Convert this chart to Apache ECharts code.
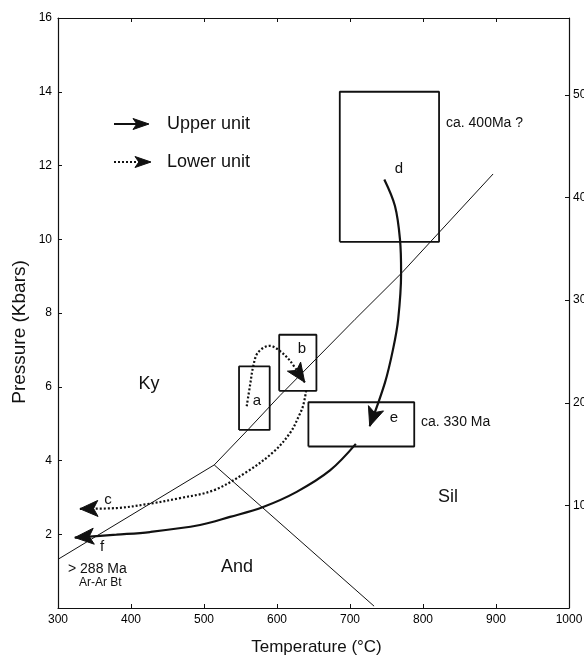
<!DOCTYPE html>
<html>
<head>
<meta charset="utf-8">
<script src="https://cdn.jsdelivr.net/npm/echarts@6.0.0/dist/echarts.min.js"></script>
<style>
html,body{margin:0;padding:0;background:#fff;}
#chart{width:584px;height:659px;}
</style>
</head>
<body>
<div id="chart"></div>
<script>
// ---- Data (temperature °C, pressure kbar) ----
const kyAndBoundary = [[300, 1.32], [514, 3.88]];
const kySilBoundary = [[514, 3.88], [560, 4.83], [604, 5.76], [707, 7.83], [771, 9.09], [896, 11.77]];
const andSilBoundary = [[514, 3.88], [733, 0.05]];

// boxes: [Tmin, Tmax, Pmin, Pmax]
const boxA = [548, 590, 4.83, 6.55];
const boxB = [603, 654, 5.89, 7.41];
const boxD = [686, 822, 9.93, 14.0];
const boxE = [643, 788, 4.38, 5.58];

// P-T paths
const pathD = [[747, 11.62], [761.6, 10.9], [768.5, 9.99], [770, 9.09], [766, 7.83], [759, 7.02], [748, 6.12], [727, 4.93]];
const pathF = [[708, 4.45], [672.6, 3.73], [627, 3.15], [581, 2.74], [535.6, 2.47], [494.5, 2.25], [426, 2.06], [380, 1.99], [323, 1.91]];
const pathAB = [[558.5, 5.47], [563, 6.03], [567.6, 6.57], [574, 6.93], [590, 7.11], [604, 6.97], [618, 6.7], [638, 6.12]];
const pathC = [[640, 5.9], [636, 5.5], [631, 5.25], [618, 4.75], [595, 4.23], [558.5, 3.69], [513, 3.19], [467, 2.98], [426, 2.83], [380, 2.71], [330, 2.69]];

const tempTicks = [300, 400, 500, 600, 700, 800, 900, 1000];
const pressureTicks = [2, 4, 6, 8, 10, 12, 14, 16];
const depthTicks = [10, 20, 30, 40, 50];

// ---- Helpers ----
function boxPoly(b) {
  return [[b[0], b[2]], [b[1], b[2]], [b[1], b[3]], [b[0], b[3]], [b[0], b[2]]];
}
const FONT = "'Liberation Sans', Arial, Helvetica, sans-serif";
const INK = '#111';

function lineSeries(data, width, type, smooth) {
  return {
    type: 'line', xAxisIndex: 0, yAxisIndex: 0, data: data,
    showSymbol: false, symbol: 'none', smooth: smooth || false, silent: true,
    lineStyle: { color: INK, width: width, type: type || 'solid' },
    z: 3
  };
}
function arrowPoints(tip, dx, dy, L, W) {
  const px = -dy, py = dx;
  return [
    tip,
    [tip[0] - dx * L + px * W / 2, tip[1] - dy * L + py * W / 2],
    [tip[0] - dx * L * 0.76, tip[1] - dy * L * 0.76],
    [tip[0] - dx * L - px * W / 2, tip[1] - dy * L - py * W / 2]
  ];
}
function arrowHead(path, L, W) {
  const n = path.length;
  return {
    type: 'custom', coordinateSystem: 'cartesian2d', xAxisIndex: 0, yAxisIndex: 0,
    silent: true, z: 6, clip: false,
    data: [[path[n - 2][0], path[n - 2][1], path[n - 1][0], path[n - 1][1]]],
    encode: { x: [0, 2], y: [1, 3] },
    renderItem: function (params, api) {
      const a = api.coord([api.value(0), api.value(1)]);
      const b = api.coord([api.value(2), api.value(3)]);
      let dx = b[0] - a[0], dy = b[1] - a[1];
      const len = Math.hypot(dx, dy) || 1;
      dx /= len; dy /= len;
      return { type: 'polygon', shape: { points: arrowPoints(b, dx, dy, L, W) },
        style: { fill: INK, stroke: INK, lineWidth: 1, lineJoin: 'miter' } };
    }
  };
}

const chart = echarts.init(document.getElementById('chart'), null, { renderer: 'canvas' });

const axisCommon = {
  type: 'value',
  axisLine: { show: true, onZero: false, lineStyle: { color: INK, width: 1.2 } },
  axisTick: { show: true, inside: true, length: 4, lineStyle: { color: INK, width: 1 } },
  splitLine: { show: false },
};

function txt(t, x, y, size, align, rot) {
  return { type: 'text', x: x, y: y, rotation: rot || 0, silent: true,
    style: { text: t, font: size + 'px ' + FONT, fill: INK, align: align || 'center', verticalAlign: 'middle' } };
}

const option = {
  backgroundColor: '#fff',
  animation: false,
  grid: { left: 58, right: 15, top: 18, bottom: 51, containLabel: false, outerBoundsMode: 'none' },
  xAxis: [
    Object.assign({}, axisCommon, {
      min: 300, max: 1000, interval: 100, position: 'bottom',
      axisLabel: { color: '#000', fontSize: 12, fontFamily: FONT, margin: 6,
        formatter: v => tempTicks.includes(v) ? String(v) : '' },
      name: 'Temperature (°C)', nameLocation: 'middle', nameGap: 31,
      nameTextStyle: { color: INK, fontSize: 17, fontFamily: FONT, padding: [0, 0, 0, 6] }
    }),
    Object.assign({}, axisCommon, {
      min: 300, max: 1000, interval: 100, position: 'top',
      axisLabel: { show: false }
    })
  ],
  yAxis: [
    Object.assign({}, axisCommon, {
      min: 0, max: 16, interval: 2, position: 'left',
      axisLabel: { color: '#000', fontSize: 12, fontFamily: FONT, margin: 6,
        formatter: v => pressureTicks.includes(v) ? String(v) : '' }
    }),
    Object.assign({}, axisCommon, {
      min: 0, max: 57.5, interval: 10, position: 'right',
      axisLabel: { color: '#000', fontSize: 12, fontFamily: FONT, margin: 4, showMaxLabel: false,
        formatter: v => depthTicks.includes(v) ? String(v) : '' }
    })
  ],
  series: [
    lineSeries(kyAndBoundary, 1),
    lineSeries(kySilBoundary, 1),
    lineSeries(andSilBoundary, 1),
    lineSeries(boxPoly(boxA), 1.8),
    lineSeries(boxPoly(boxB), 1.8),
    lineSeries(boxPoly(boxD), 1.8),
    lineSeries(boxPoly(boxE), 1.8),
    lineSeries(pathD, 2.2, 'solid', 0.35),
    lineSeries(pathF, 2.2, 'solid', 0.35),
    lineSeries(pathAB, 2.2, [2, 2], 0.35),
    lineSeries(pathC, 2.2, [2, 2], 0.35),
    arrowHead(pathD, 19, 16),
    arrowHead(pathF, 19, 16),
    arrowHead(pathAB, 19, 16),
    arrowHead(pathC, 18, 16)
  ],
  graphic: [
    // y-axis title
    txt('Pressure (Kbars)', 20, 332, 19, 'center', Math.PI / 2),
    // legend keys
    { type: 'line', silent: true, shape: { x1: 114, y1: 124, x2: 138, y2: 124 }, style: { stroke: INK, lineWidth: 2 } },
    { type: 'polygon', silent: true, shape: { points: arrowPoints([149, 124], 1, 0, 16, 11) }, style: { fill: INK, stroke: INK, lineWidth: 1 } },
    { type: 'line', silent: true, shape: { x1: 114, y1: 162, x2: 138, y2: 162 }, style: { stroke: INK, lineWidth: 2, lineDash: [2, 2] } },
    { type: 'polygon', silent: true, shape: { points: arrowPoints([151, 162], 1, 0, 16, 11) }, style: { fill: INK, stroke: INK, lineWidth: 1 } },
    txt('Upper unit', 167, 124, 18, 'left'),
    txt('Lower unit', 167, 162, 18, 'left'),
    // field labels
    txt('Ky', 149, 384, 18),
    txt('And', 237, 567, 18),
    txt('Sil', 448, 497, 18),
    // path / box letters
    txt('a', 257, 401, 15),
    txt('b', 302, 349, 15),
    txt('d', 399, 169, 15),
    txt('e', 394, 418, 15),
    txt('c', 108, 500, 15),
    txt('f', 102, 547, 15),
    // ages
    txt('ca. 400Ma ?', 446, 123, 14, 'left'),
    txt('ca. 330 Ma', 421, 422, 14, 'left'),
    txt('> 288 Ma', 68, 569, 14, 'left'),
    txt('Ar-Ar Bt', 79, 583, 12, 'left')
  ]
};
chart.setOption(option);
</script>
</body>
</html>
